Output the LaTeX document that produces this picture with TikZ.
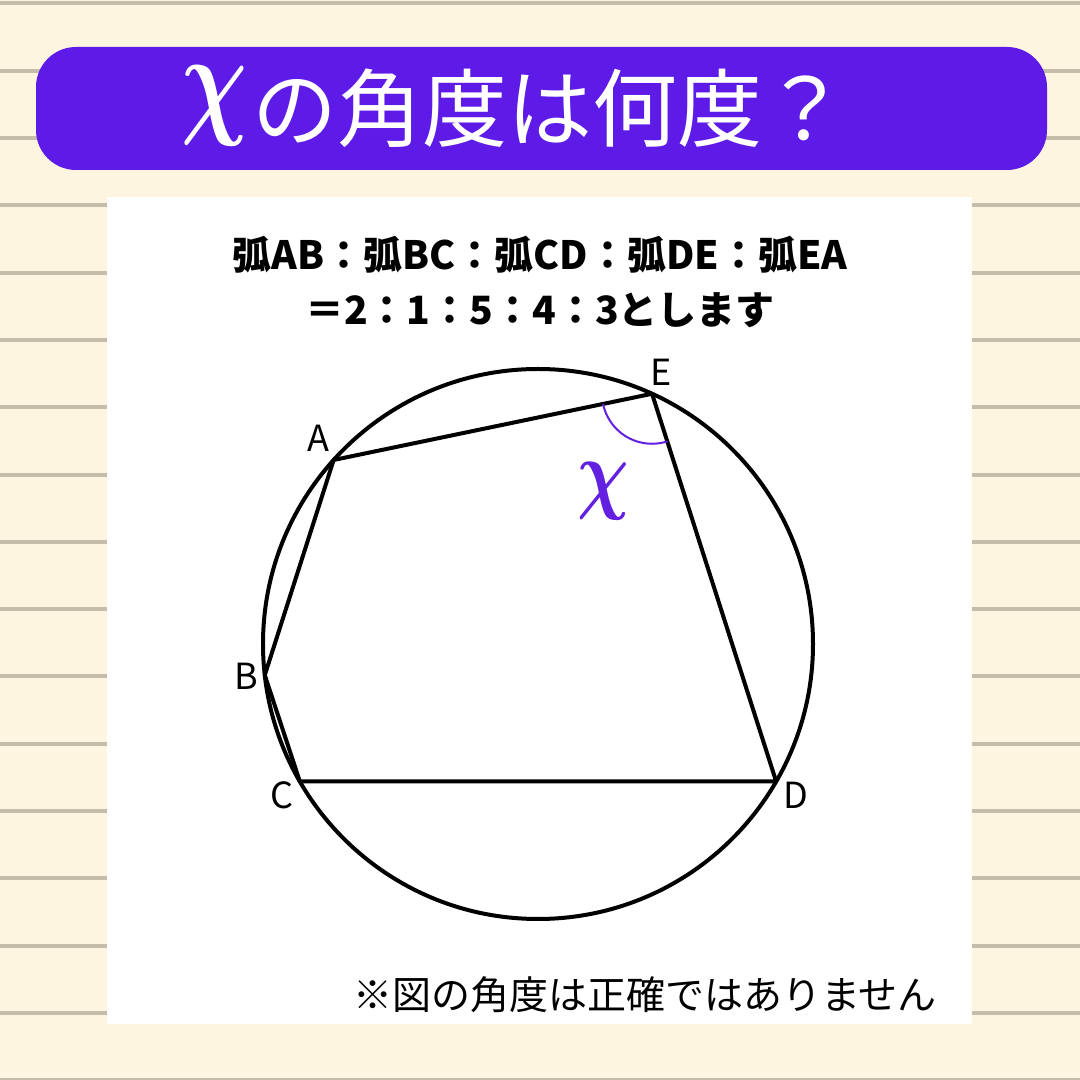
\documentclass[tikz,border=0pt]{standalone}
\usepackage{fontspec}
\setmainfont{Noto Sans CJK JP}
\newfontfamily\jp{Noto Sans CJK JP}
\usepackage{graphicx}
\definecolor{bgcream}{HTML}{FEF5E0}
\definecolor{rulegray}{HTML}{C5BDAA}
\definecolor{banner}{HTML}{5E1BE8}
\definecolor{chipurple}{HTML}{6420E0}
\begin{document}
\begin{tikzpicture}[x=1pt,y=1pt,
  ptlabel/.style={inner sep=0pt, font=\jp\fontsize{36}{40}\selectfont},
  figline/.style={line width=4pt, line join=round},
  headtext/.style={inner sep=0pt, font=\jp\bfseries\fontsize{39}{46}\selectfont}]
% background
\fill[bgcream] (0,0) rectangle (1080,1080);
\useasboundingbox (0,0) rectangle (1080,1080);
\foreach \k in {0,...,16}{
  \fill[rulegray] (0,{1078.5-67.3*\k}) rectangle (1080,{1074.5-67.3*\k});
}
% banner
\fill[banner, rounded corners=40pt] (36,910) rectangle (1047,1033);
\node[inner sep=0pt, text=white] (chititle) at (215,974)
  {\scalebox{9.2}[12.5]{\boldmath$\chi$}};
\node[inner sep=0pt, text=white, anchor=west, font=\jp\fontsize{85}{90}\selectfont] (title) at (252,972) {の角度は何度？};
% panel
\fill[white] (107,56) rectangle (972,883);
\node[headtext] (line1) at (540,825) {弧AB：弧BC：弧CD：弧DE：弧EA};
\node[headtext] (line2) at (540,770) {＝2：1：5：4：3とします};
% circle and pentagon
\coordinate (O) at (538,436);
\draw[line width=4pt] (O) circle[radius=275];
\coordinate (A) at ([shift={(138:275)}]O);
\coordinate (B) at ([shift={(186.5:275)}]O);
\coordinate (C) at ([shift={(210:275)}]O);
\coordinate (D) at ([shift={(330:275)}]O);
\coordinate (E) at ([shift={(65.5:275)}]O);
\draw[figline] (A) -- (B) -- (C) -- (D) -- (E) -- cycle;
% angle mark
\draw[chipurple, line width=2pt] ([shift={(191.8:50)}]E) arc[start angle=191.8, end angle=287.9, radius=50];
\node[inner sep=0pt, text=chipurple] (chi) at (603,589)
  {\scalebox{7.2}[9]{\boldmath$\chi$}};
% labels
\node[ptlabel] (lA) at (318,642) {A};
\node[ptlabel] (lB) at (246,404) {B};
\node[ptlabel] (lC) at (282,285) {C};
\node[ptlabel] (lD) at (796,285) {D};
\node[ptlabel] (lE) at (661,708) {E};
% note
\node[inner sep=0pt, font=\jp\fontsize{39}{42}\selectfont] (note) at (645,85) {※図の角度は正確ではありません};
\end{tikzpicture}
\end{document}
